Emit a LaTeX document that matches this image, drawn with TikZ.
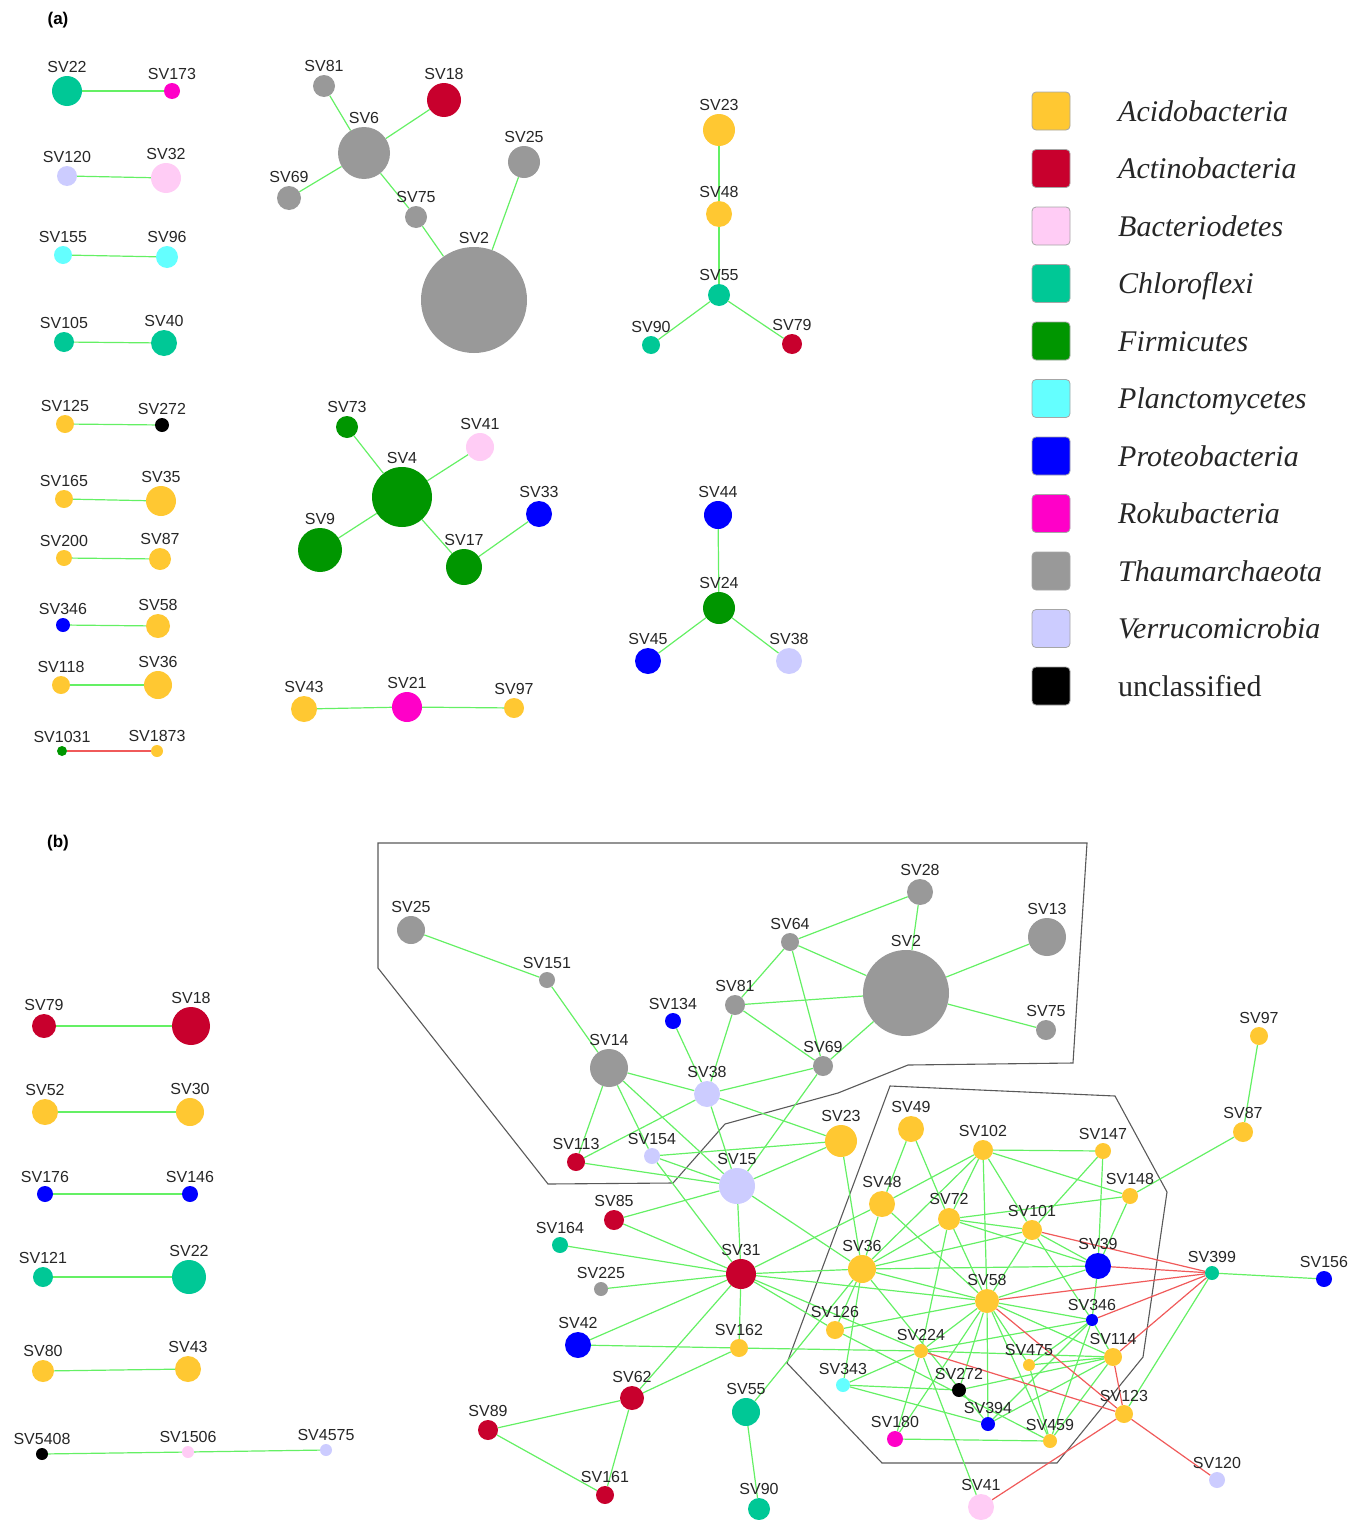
\documentclass[tikz,border=0pt]{standalone}
\usepackage{fontspec}
\setmainfont{Liberation Sans}
\newfontfamily\legfont{Liberation Serif}
\usetikzlibrary{backgrounds}
\definecolor{acido}{RGB}{255,200,50}
\definecolor{actino}{RGB}{200,0,45}
\definecolor{bactero}{RGB}{255,204,245}
\definecolor{chloro}{RGB}{0,200,150}
\definecolor{firmi}{RGB}{0,150,0}
\definecolor{plancto}{RGB}{100,255,255}
\definecolor{proteo}{RGB}{0,0,255}
\definecolor{roku}{RGB}{255,0,200}
\definecolor{thaum}{RGB}{153,153,153}
\definecolor{verru}{RGB}{204,204,255}
\definecolor{uncl}{RGB}{0,0,0}
\definecolor{eg}{RGB}{100,240,100}
\definecolor{er}{RGB}{240,90,90}
\begin{document}
\begin{tikzpicture}[x=1pt,y=-1pt,
  vtx/.style={circle,inner sep=0pt,draw=none},
  lbl/.style={inner sep=0pt,anchor=base,font=\fontsize{16}{16}\selectfont,text=black!85},
  ge/.style={draw=eg,line width=1.2pt},
  re/.style={draw=er,line width=1.2pt},
  hull/.style={draw=black!65,line width=1.1pt},
  legbox/.style={rectangle,rounded corners=4pt,minimum size=38pt,inner sep=0pt,draw=black!35,line width=0.8pt},
  legtxt/.style={inner sep=0pt,anchor=base west,font=\legfont\fontsize{30}{30}\selectfont,text=black!85},
  panel/.style={inner sep=0pt,font=\bfseries\fontsize{17}{17}\selectfont}]
\useasboundingbox (0,0) rectangle (1348,1520);

\node[panel] (pa) at (58,20) {(a)};
\node[panel] (pb) at (58,843) {(b)};

% ---------- panel (a) nodes ----------
\foreach \n/\x/\y/\r/\c in {
22/67/91/15/chloro, 173/172/91/8/roku,
120/67/176/10/verru, 32/166/178/15/bactero,
155/63/255/9/plancto, 96/167/257/11/plancto,
105/64/342/10/chloro, 40/164/343/13/chloro,
125/65/424/9/acido, 272/162/425/7/uncl,
165/64/499/9/acido, 35/161/501/15/acido,
200/64/558/8/acido, 87/160/559/11/acido,
346/63/625/7/proteo, 58/158/626/12/acido,
118/61/685/9/acido, 36/158/685/14/acido,
1031/62/751/5/firmi, 1873/157/751/6/acido,
81/324/86/11/thaum, 18/444/100/17/actino, 6/364/153/26/thaum,
69/289/198/12/thaum, 75/416/217/11/thaum, 25/524/162/16/thaum, 2/474/300/53/thaum,
23/719/130/16/acido, 48/719/214/13/acido, 55/719/295/11/chloro,
90/651/345/9/chloro, 79/792/344/10/actino,
73/347/427/11/firmi, 41/480/447/14/bactero, 4/402/497/30/firmi,
9/320/550/22/firmi, 17/464/567/18/firmi, 33/539/514/13/proteo,
44/718/515/14/proteo, 24/719/608/16/firmi, 45/648/661/13/proteo, 38/789/661/13/verru,
43/304/709/13/acido, 21/407/707/15/roku, 97/514/708/10/acido}{
  \node[vtx,fill=\c,minimum size={2*\r pt}] (a\n) at (\x,\y) {};
  \node[lbl] (la\n) at (\x,\y-\r-4) {SV\n};
}

% ---------- panel (b) nodes ----------
\foreach \n/\x/\y/\r/\c in {
79/44/1026/12/actino, 18/191/1026/19/actino,
52/45/1112/13/acido, 30/190/1112/14/acido,
176/45/1194/8/proteo, 146/190/1194/8/proteo,
121/43/1277/10/chloro, 22/189/1277/17/chloro,
80/43/1371/11/acido, 43/188/1369/13/acido,
5408/42/1454/6/uncl, 1506/188/1452/6/bactero, 4575/326/1450/6/verru,
25/411/930/14/thaum, 151/547/980/8/thaum, 28/920/892/13/thaum,
64/790/942/9/thaum, 2/906/993/43/thaum, 13/1047/937/19/thaum,
75/1046/1030/10/thaum, 81/735/1005/10/thaum, 134/673/1021/8/proteo,
14/609/1068/19/thaum, 69/823/1066/10/thaum, 38/707/1094/13/verru,
23/841/1141/16/acido, 113/576/1162/9/actino, 154/652/1156/8/verru,
15/737/1186/18/verru, 85/614/1220/10/actino, 164/560/1245/8/chloro,
225/601/1289/7/thaum, 31/741/1274/15/actino, 42/578/1345/13/proteo,
162/739/1348/9/acido, 62/632/1398/12/actino, 89/488/1430/10/actino,
161/605/1495/9/actino, 55/746/1412/14/chloro, 90/759/1509/11/chloro,
49/911/1129/13/acido, 102/983/1150/10/acido, 147/1103/1151/8/acido,
48/882/1204/13/acido, 72/949/1219/11/acido, 148/1130/1196/8/acido,
101/1032/1230/10/acido, 39/1098/1266/13/proteo, 36/862/1269/14/acido,
58/987/1301/12/acido, 346/1092/1320/6/proteo, 126/835/1330/9/acido,
224/921/1351/7/acido, 114/1113/1357/9/acido, 475/1029/1365/6/acido,
343/843/1385/7/plancto, 272/959/1390/7/uncl, 123/1124/1414/9/acido,
394/988/1424/7/proteo, 180/895/1439/8/roku, 459/1050/1441/7/acido,
41/981/1507/13/bactero, 97/1259/1036/9/acido, 87/1243/1132/10/acido,
399/1212/1273/7/chloro, 156/1324/1279/8/proteo, 120/1217/1480/8/verru}{
  \node[vtx,fill=\c,minimum size={2*\r pt}] (b\n) at (\x,\y) {};
  \node[lbl] (lb\n) at (\x,\y-\r-4) {SV\n};
}

% ---------- legend ----------
\foreach \i/\c/\t in {0/acido/Acidobacteria, 1/actino/Actinobacteria, 2/bactero/Bacteriodetes,
  3/chloro/Chloroflexi, 4/firmi/Firmicutes, 5/plancto/Planctomycetes, 6/proteo/Proteobacteria,
  7/roku/Rokubacteria, 8/thaum/Thaumarchaeota, 9/verru/Verrucomicrobia}{
  \node[legbox,fill=\c] (k\i) at (1051,111+57.5*\i) {};
  \node[legtxt] (t\i) at (1118,121+57.5*\i) {\itshape\t};
}
\node[legbox,fill=uncl] (k10) at (1051,686) {};
\node[legtxt] (t10) at (1118,696) {unclassified};

\begin{pgfonlayer}{background}
% hulls
\draw[hull] (378,843) -- (1087,843) -- (1073,1063) -- (908,1065) -- (838,1093) -- (725,1124)
  -- (673,1183) -- (548,1184) -- (378,968) -- cycle;
\draw[hull] (890,1086) -- (1115,1096) -- (1167,1192) -- (1143,1357) -- (1057,1463)
  -- (882,1463) -- (787,1363) -- cycle;
% panel a edges
\foreach \u/\v in {a22/a173, a120/a32, a155/a96, a105/a40, a125/a272, a165/a35, a200/a87,
  a346/a58, a118/a36, a81/a6, a18/a6, a69/a6, a6/a75, a75/a2, a25/a2, a23/a48, a48/a55,
  a55/a90, a55/a79, a73/a4, a41/a4, a4/a9, a4/a17, a17/a33, a44/a24, a24/a45, a24/a38,
  a43/a21, a21/a97}{\draw[ge] (\u) -- (\v);}
\draw[re] (a1031) -- (a1873);
% panel b edges
\foreach \u/\v in {b79/b18, b52/b30, b176/b146, b121/b22, b80/b43, b5408/b1506, b1506/b4575,
  b25/b151, b151/b14, b28/b64, b28/b2, b64/b2, b64/b81, b64/b69, b81/b2, b81/b69, b81/b38,
  b2/b13, b2/b75, b2/b69, b134/b38, b14/b38, b14/b113, b14/b154, b14/b15, b113/b38, b113/b15,
  b154/b15, b154/b23, b154/b31, b38/b69, b38/b23, b38/b15, b69/b15, b23/b15, b23/b36,
  b15/b85, b15/b31, b15/b36, b85/b31, b164/b31, b225/b31, b31/b42, b31/b62, b31/b162,
  b31/b36, b31/b48, b31/b58, b31/b126, b31/b224, b42/b162, b162/b62, b62/b89, b62/b161,
  b89/b161, b55/b90, b55/b36, b162/b224,
  b49/b48, b49/b72, b102/b147, b102/b148, b102/b48, b102/b36, b102/b72, b102/b58, b102/b101,
  b147/b101, b147/b39, b148/b72, b148/b39, b148/b87, b87/b97, b48/b36, b48/b58, b72/b36,
  b72/b101, b72/b39, b72/b224, b72/b58, b101/b36, b101/b58, b101/b39, b101/b346, b39/b36,
  b39/b58, b39/b346, b36/b58, b36/b126, b36/b343, b36/b394, b58/b224, b58/b475, b58/b272,
  b58/b394, b58/b459, b58/b114, b58/b346, b58/b180, b58/b126, b346/b224, b346/b475,
  b346/b394, b346/b459, b346/b114, b114/b224, b114/b475, b114/b272, b114/b394, b114/b459,
  b224/b343, b224/b180, b224/b41, b343/b272, b343/b394, b180/b459, b459/b475, b126/b459,
  b399/b156, b399/b123}{\draw[ge] (\u) -- (\v);}
\foreach \u/\v in {b101/b399, b39/b399, b58/b399, b346/b399, b114/b399, b58/b123,
  b224/b123, b114/b123, b123/b41, b123/b120}{\draw[re] (\u) -- (\v);}
\end{pgfonlayer}
\end{tikzpicture}
\end{document}
